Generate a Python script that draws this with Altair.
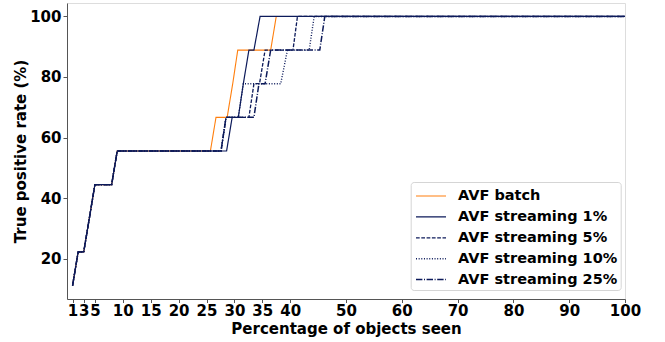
import altair as alt
import pandas as pd

# common early part (all series identical)
common_x = [1, 2, 3, 4, 5, 8, 9]
common_y = [11.11, 22.22, 22.22, 33.33, 44.44, 44.44, 55.56]

batch_x = [25.7, 26.7, 28.7, 29.7, 30.6, 36.5, 37.5, 100]
batch_y = [55.56, 66.67, 66.67, 77.78, 88.89, 88.89, 100, 100]

s1_x = [28.6, 29.6, 30.7, 31.6, 32.6, 33.5, 34.6, 100]
s1_y = [55.56, 66.67, 66.67, 77.78, 88.89, 88.89, 100, 100]

s5_x = [27.6, 28.5, 32.6, 33.5, 34.5, 35.5, 40.5, 41.3, 100]
s5_y = [55.56, 66.67, 66.67, 77.78, 77.78, 88.89, 88.89, 100, 100]

s10_x = [27.6, 28.5, 30.7, 31.6, 38.3, 39.5, 43.4, 44.3, 100]
s10_y = [55.56, 66.67, 66.67, 77.78, 77.78, 88.89, 88.89, 100, 100]

s25_x = [27.6, 28.5, 33.5, 34.4, 35.5, 36.5, 45.3, 46.2, 100]
s25_y = [55.56, 66.67, 66.67, 77.78, 77.78, 88.89, 88.89, 100, 100]

names = ["AVF batch", "AVF streaming 1%", "AVF streaming 5%",
         "AVF streaming 10%", "AVF streaming 25%"]
colors = ["#ff7f0e", "#0c1a5a", "#0c1a5a", "#0c1a5a", "#0c1a5a"]
dashes = [[1, 0], [1, 0], [3.7, 1.6], [1, 1.65], [6.4, 1.6, 1, 1.6]]
widths = [1.1, 1.5, 1.0, 1.0, 1.0]

x_ticks = [1, 3, 5, 10, 15, 20, 25, 30, 35, 40, 50, 60, 70, 80, 90, 100]
y_ticks = [20, 40, 60, 80, 100]

rows = []
for i, (n, xs, ys) in enumerate(zip(names,
                                    [batch_x, s1_x, s5_x, s10_x, s25_x],
                                    [batch_y, s1_y, s5_y, s10_y, s25_y])):
    allx = common_x + xs
    ally = common_y + ys
    for k, (a, b) in enumerate(zip(allx, ally)):
        rows.append({"series": n, "x": a, "y": b, "ord": k, "si": i})
df = pd.DataFrame(rows)

FONT = "DejaVu Sans"

xenc = alt.X("x:Q", scale=alt.Scale(domain=[0, 100], nice=False, zero=False),
             axis=alt.Axis(values=x_ticks, title="Percentage of objects seen",
                           grid=False, tickSize=3.5, labelPadding=0.5,
                           labelFont=FONT, labelFontSize=15, labelFontWeight="bold",
                           labelColor="black", labelOverlap=False, labelFlush=False,
                           titleFont=FONT, titleFontSize=15, titleFontWeight="bold",
                           titleColor="black", titlePadding=3.5,
                           domainColor="#555", tickColor="#555"))
yenc = alt.Y("y:Q", scale=alt.Scale(domain=[6.67, 104.44], nice=False, zero=False),
             axis=alt.Axis(values=y_ticks, title="True positive rate (%)",
                           grid=False, tickSize=4, labelPadding=2,
                           labelFont=FONT, labelFontSize=15, labelFontWeight="bold",
                           labelColor="black",
                           titleFont=FONT, titleFontSize=15, titleFontWeight="bold",
                           titleColor="black", titlePadding=1,
                           domainColor="#555", tickColor="#555"))

color = alt.Color("series:N", scale=alt.Scale(domain=names, range=colors),
                  legend=alt.Legend(title=None, orient="none", legendX=343.7, legendY=179,
                                    symbolType="M-1.5,0H1.5", symbolSize=400,
                                    symbolStrokeWidth=1.1, symbolOffset=6.3,
                                    labelFont=FONT, labelFontSize=14.5,
                                    labelFontWeight="bold", labelColor="black",
                                    rowPadding=2.9, labelOffset=16,
                                    padding=3, strokeColor="#d5d5d5",
                                    fillColor="white", cornerRadius=3,
                                    labelLimit=300))
dash = alt.StrokeDash("series:N", scale=alt.Scale(domain=names, range=dashes))
sw = alt.StrokeWidth("series:N", scale=alt.Scale(domain=names, range=widths), legend=None)

base = alt.Chart(df).mark_line(clip=True).encode(
    x=xenc, y=yenc, color=color, strokeDash=dash, strokeWidth=sw,
    order="ord:Q")

layers = [base.transform_filter(alt.datum.si == i) for i in range(5)]

chart = alt.layer(*layers).properties(
    width=558, height=296,
    padding={"left": 67, "top": 3, "right": 40, "bottom": 43},
    autosize=alt.AutoSizeParams(type="none"),
).configure_view(stroke="#555", strokeWidth=1).configure(background="white")

chart.save("out.html", embed_options={"renderer": "svg", "actions": False})
